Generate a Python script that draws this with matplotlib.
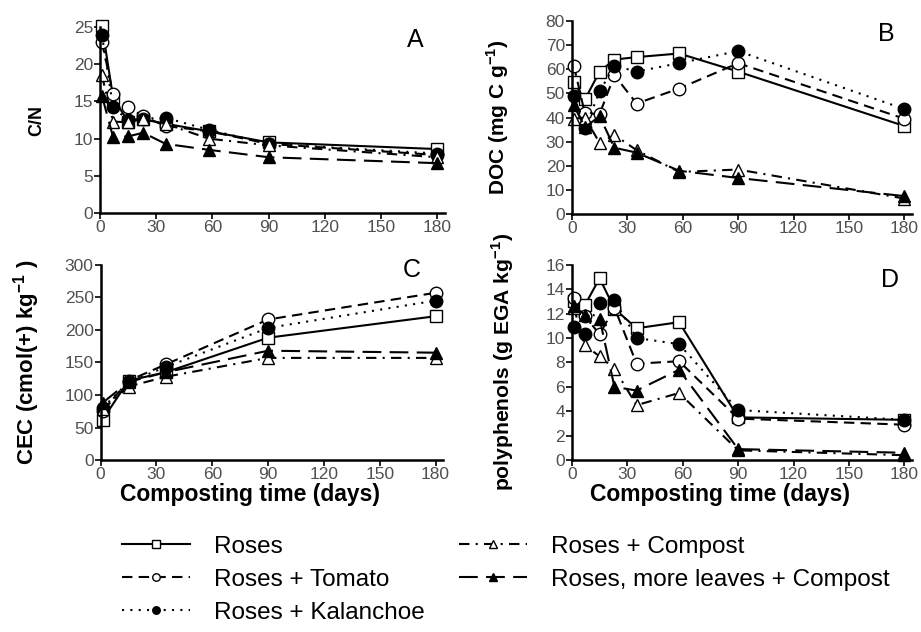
import matplotlib
matplotlib.use("Agg")
import matplotlib.pyplot as plt

plt.rcParams['font.family'] = ['Liberation Sans', 'DejaVu Sans']

# --- dados ---
dias = [1, 7, 15, 23, 35, 58, 90, 180]
dias_cec = [1, 15, 35, 90, 180]

nomes = ["Roses", "Roses + Tomato", "Roses + Kalanchoe",
         "Roses + Compost", "Roses, more leaves + Compost"]

cn_roses = [25.2, 15.5, 12.3, 12.6, 12.0, 11.0, 9.5, 8.6]
cn_tomato = [23.0, 16.0, 14.3, 13.0, 11.7, 11.0, 9.3, 7.8]
cn_kalanchoe = [24.0, 14.2, 12.5, 12.7, 12.8, 11.2, 9.3, 8.0]
cn_compost = [18.5, 12.3, 12.2, 12.6, 12.0, 10.0, 9.1, 7.5]
cn_folhas = [15.8, 10.2, 10.3, 10.8, 9.3, 8.5, 7.5, 6.7]

doc_roses = [54.5, 47.5, 59.0, 64.0, 65.0, 66.5, 59.0, 36.5]
doc_tomato = [61.5, 41.7, 41.5, 57.5, 45.8, 52.0, 62.5, 39.5]
doc_kalanchoe = [49.0, 35.5, 50.8, 61.5, 59.0, 62.5, 67.5, 43.5]
doc_compost = [39.5, 40.0, 29.5, 32.8, 26.5, 17.5, 18.5, 6.5]
doc_folhas = [45.0, 36.0, 40.5, 27.5, 25.5, 18.0, 15.0, 7.5]

cec_roses = [62, 122, 135, 188, 221]
cec_tomato = [75, 122, 147, 216, 257]
cec_kalanchoe = [80, 120, 143, 203, 245]
cec_compost = [78, 113, 128, 157, 157]
cec_folhas = [88, 120, 135, 168, 165]

pol_roses = [13.0, 12.7, 14.9, 12.4, 10.8, 11.3, 3.5, 3.3]
pol_tomato = [13.3, 11.8, 10.3, 12.5, 7.9, 8.1, 3.4, 2.9]
pol_kalanchoe = [10.9, 10.3, 12.9, 13.1, 10.0, 9.5, 4.1, 3.3]
pol_compost = [12.5, 9.4, 8.5, 7.5, 4.5, 5.5, 0.8, 0.4]
pol_folhas = [12.6, 11.9, 11.6, 6.0, 5.7, 7.4, 0.9, 0.6]

# estilos: linha, marcador, preenchimento
estilos = [
    dict(ls='-', marker='s', mfc='white'),
    dict(ls=(0, (5, 3)), marker='o', mfc='white'),
    dict(ls=(0, (1, 3)), marker='o', mfc='black'),
    dict(ls=(0, (5, 3, 1, 3)), marker='^', mfc='white'),
    dict(ls=(0, (9, 4)), marker='^', mfc='black'),
]

fig = plt.figure(figsize=(9.21, 6.32), dpi=100)
axA = fig.add_axes([0.1086, 0.663, 0.3744, 0.294])
axB = fig.add_axes([0.621, 0.661, 0.369, 0.306])
axC = fig.add_axes([0.1093, 0.272, 0.3717, 0.309])
axD = fig.add_axes([0.621, 0.272, 0.369, 0.309])

# (eixo, x, series, ylim, yticks, ylabel, tamanho, x do ylabel, letra, pos letra, xlabel?)
paineis = [
    (axA, dias, [cn_roses, cn_tomato, cn_kalanchoe, cn_compost, cn_folhas],
     (0, 25), range(0, 26, 5), "C/N", 13, -0.16, "A", (0.913, 0.93), False),
    (axB, dias, [doc_roses, doc_tomato, doc_kalanchoe, doc_compost, doc_folhas],
     (0, 80), range(0, 81, 10), r"DOC (mg C g$^{\mathregular{-1}}$)", 15, -0.18, "B", (0.924, 0.93), False),
    (axC, dias_cec, [cec_roses, cec_tomato, cec_kalanchoe, cec_compost, cec_folhas],
     (0, 300), range(0, 301, 50), r"CEC (cmol(+) kg$^{\mathregular{-1}}$ )", 16, -0.17, "C", (0.91, 0.975), True),
    (axD, dias, [pol_roses, pol_tomato, pol_kalanchoe, pol_compost, pol_folhas],
     (0, 16), range(0, 17, 2), r"polyphenols (g EGA kg$^{\mathregular{-1}}$)", 15.2, -0.165, "D", (0.935, 0.92), True),
]

linhas = []
for ax, x, series, ylim, yticks, ylabel, tam, xlab, letra, pos, xl in paineis:
    linhas = []
    for y, est, nome in zip(series, estilos, nomes):
        l, = ax.plot(x, y, color='black', lw=1.5, ls=est['ls'],
                     marker=est['marker'], markersize=9, mfc=est['mfc'],
                     mec='black', mew=1.0, clip_on=False, label=nome)
        linhas.append(l)
    ax.set_xlim(0, 184)
    ax.set_ylim(*ylim)
    ax.set_xticks(range(0, 181, 30))
    ax.set_yticks(list(yticks))
    ax.spines['top'].set_visible(False)
    ax.spines['right'].set_visible(False)
    for s in ['left', 'bottom']:
        ax.spines[s].set_linewidth(1.8)
    ax.tick_params(direction='out', length=4, width=1.2, labelsize=12.5,
                   labelcolor='#505050', pad=1)
    ax.set_ylabel(ylabel, fontsize=tam, fontweight='bold')
    ax.yaxis.set_label_coords(xlab, 0.5)
    if xl:
        ax.set_xlabel("Composting time (days)", fontsize=16.5, fontweight='bold')
        ax.xaxis.set_label_coords(0.435, -0.118)
    ax.text(pos[0], pos[1], letra, transform=ax.transAxes, fontsize=18,
            ha='center', va='center')

fig.legend(handles=linhas, labels=nomes, loc='upper left', bbox_to_anchor=(0.132, 0.152),
           ncol=2, frameon=False, fontsize=17.5, handlelength=2.8, markerscale=0.6,
           columnspacing=1.4, labelspacing=0.45, handletextpad=1.0,
           borderpad=0, borderaxespad=0)

fig.savefig("out.png", dpi=100)
